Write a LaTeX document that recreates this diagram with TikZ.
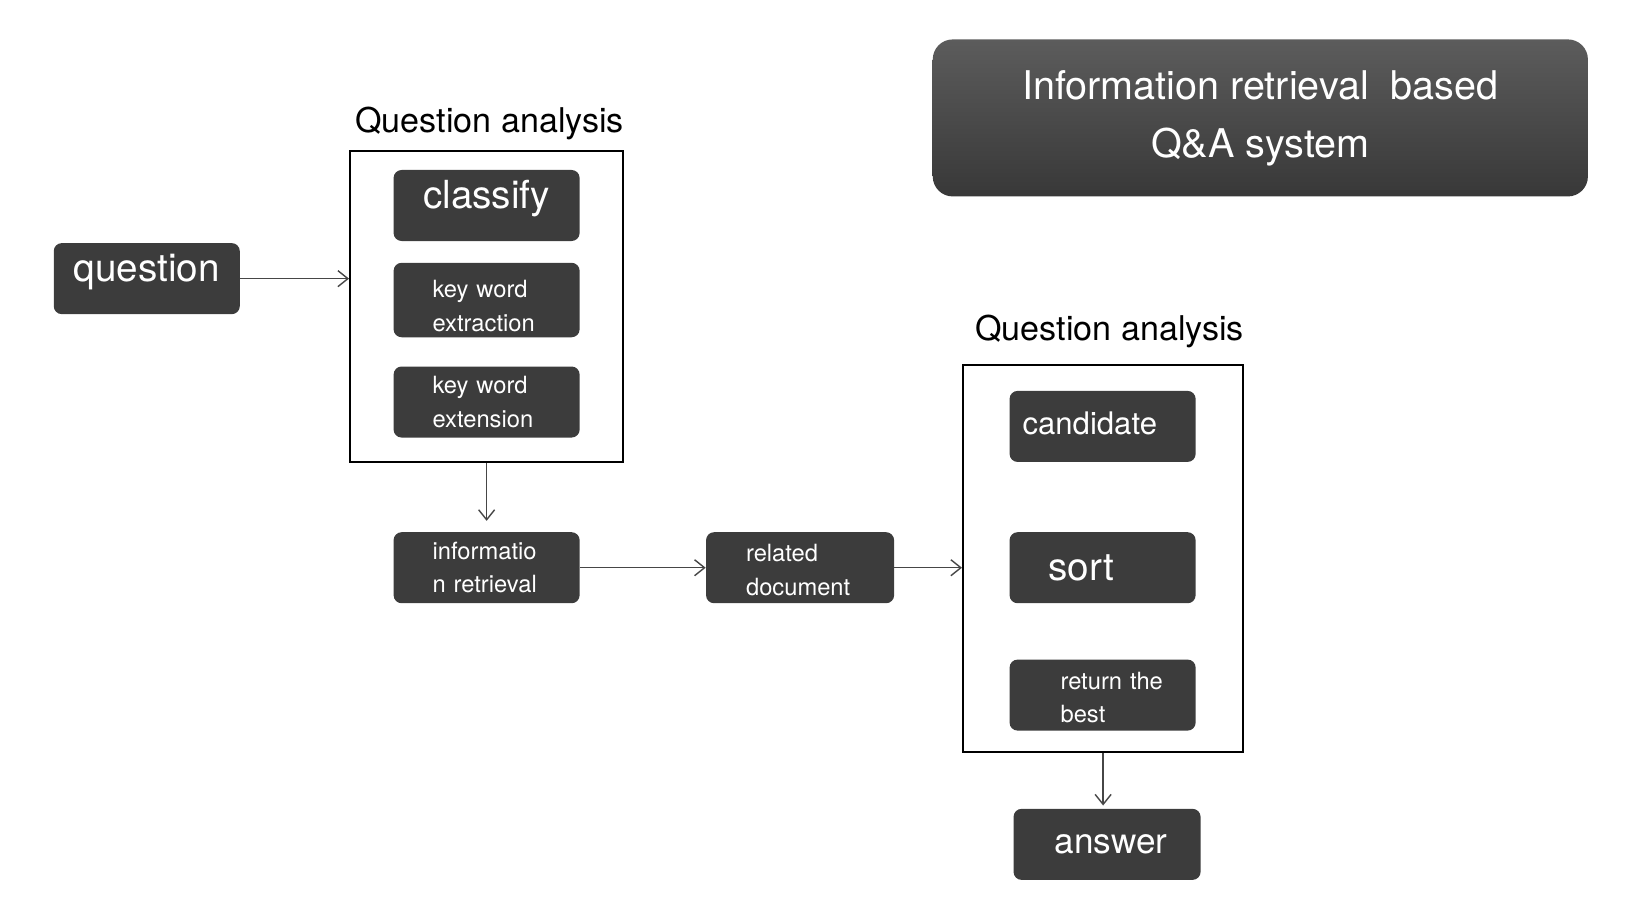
\documentclass[tikz,border=0pt]{standalone}
\usepackage{fontspec}
\setmainfont{TeX Gyre Heros}
\definecolor{qagray}{RGB}{60,60,60}
\definecolor{qatop}{RGB}{92,92,92}
\definecolor{qabottom}{RGB}{56,56,56}
\definecolor{qaline}{RGB}{70,70,70}
\usepackage{tikz}
\usetikzlibrary{arrows.meta}

\begin{document}
\begin{tikzpicture}[x=0.0199cm,y=-0.0199cm,
  blk/.style={rounded corners=0.16cm, fill=qagray, text=white, minimum width=3.72cm, minimum height=1.42cm},
  small/.style={font=\fontsize{13.5}{19}\selectfont, align=left, inner xsep=0.78cm, text width=2.16cm},
  lower/.style={execute at begin node={\rule{0pt}{#1}}},
  frame/.style={draw=black, line width=1.2pt},
  link/.style={draw=qaline, line width=0.8pt, -{Straight Barb[length=0.2cm,width=0.32cm]}}]
\useasboundingbox (0,0) rectangle (1642,904);

% Title
\node[rounded corners=0.4cm, top color=qatop, bottom color=qabottom, text=white,
  minimum width=13.1cm, minimum height=3.14cm, align=center,
  font=\fontsize{22.5}{33}\selectfont] (title) at (1266.5,118.5)
  {Information retrieval \ based\\Q\&A system};

% Question analysis
\node[frame, minimum width=5.46cm, minimum height=6.22cm] (box1) at (489,308) {};
\node[font=\fontsize{19.4}{23}\selectfont] (head1) at (492,124) {Question analysis};
\node[blk, font=\fontsize{22}{26}\selectfont, text depth=0.45cm] (classify) at (489,206.5) {classify};
\node[blk, small, lower=16.5pt] (extraction) at (489,301.5) {key word\\extraction};
\node[blk, small] (extension) at (489,404) {key word\\extension};

\node[blk, font=\fontsize{22}{26}\selectfont, text depth=0.42cm] (question) at (147.5,280) {question};
\node[blk, small] (retrieval) at (489,570.5) {informatio\\n retrieval};
\node[blk, small, lower=12.5pt, inner xsep=0.8cm, text width=2.16cm] (related) at (804,570.5) {related\\document};

% Answer processing
\node[frame, minimum width=5.6cm, minimum height=7.74cm] (box2) at (1108.5,561) {};
\node[font=\fontsize{19.4}{23}\selectfont] (head2) at (1115,333) {Question analysis};
\node[blk, font=\fontsize{17.7}{22}\selectfont, align=left, inner xsep=0.26cm, text width=3.2cm, text depth=0.15cm] (candidate) at (1108,428.5) {candidate};
\node[blk, font=\fontsize{22}{26}\selectfont, align=left, inner xsep=0.78cm, text width=2.16cm] (sort) at (1108,570.5) {sort};
\node[blk, small, lower=12.5pt, inner xsep=0.26cm, text width=3.2cm] (best) at (1108,698.5) {\hspace*{0.76cm}return the\\\hspace*{0.76cm}best};
\node[blk, font=\fontsize{20}{24}\selectfont, align=left, inner xsep=0.82cm, text width=2.1cm] (answer) at (1112.5,848.5) {answer};

% Connectors
\draw[link] (question.east) -- (question.east -| box1.west);
\draw[link, shorten >=0.22cm] (box1.south) -- (retrieval.north);
\draw[link] (retrieval.east) -- (related.west);
\draw[link] (related.east) -- (related.east -| box2.west);
\draw[link, shorten >=0.06cm] (box2.south) -- (box2.south |- answer.north);
\end{tikzpicture}
\end{document}
